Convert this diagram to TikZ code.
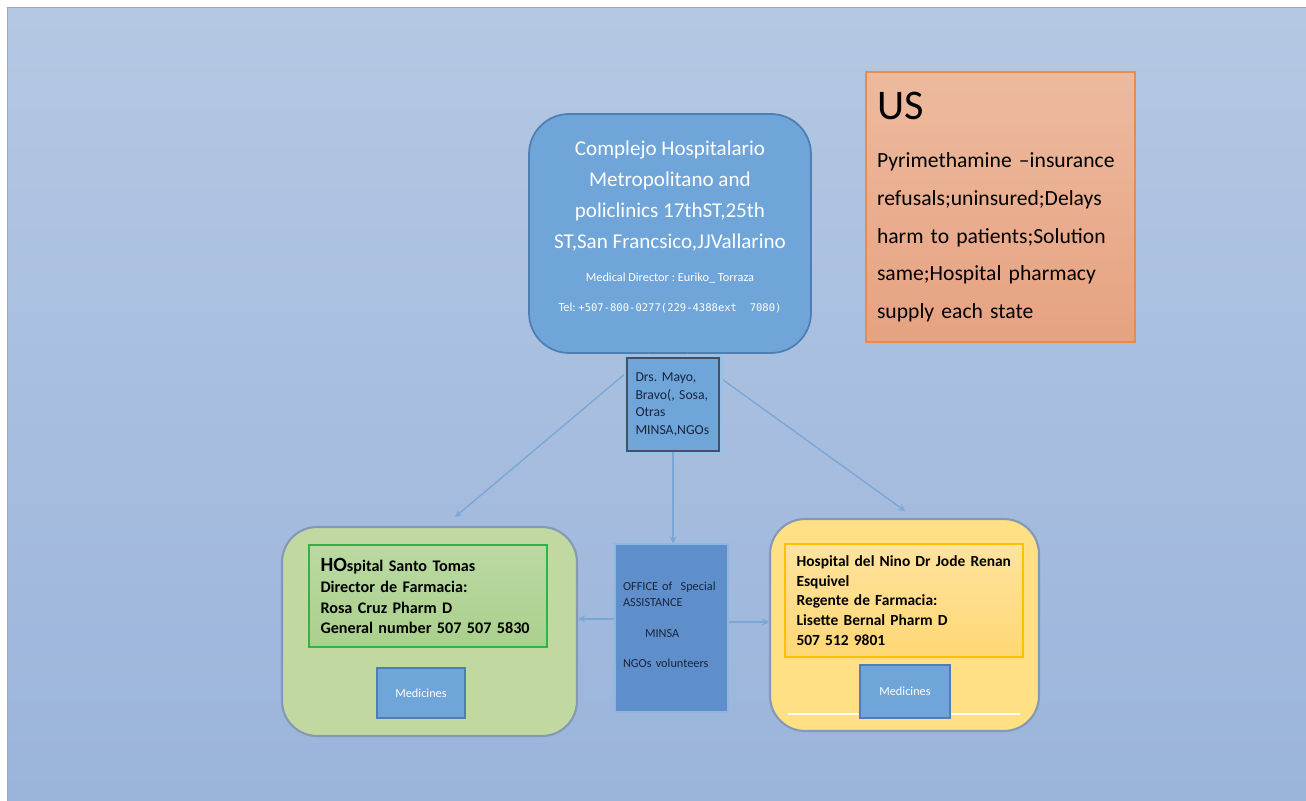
\documentclass[tikz,border=0pt]{standalone}
\usepackage{fontspec}
\setmainfont{Carlito}
\newfontfamily\telfont{DejaVu Sans Mono}
\usetikzlibrary{arrows}
\usetikzlibrary{shapes}
\frenchspacing

\definecolor{panelTop}{HTML}{B4C8E3}
\definecolor{panelBot}{HTML}{9BB4DB}
\definecolor{boxBlue}{HTML}{6FA5D8}
\definecolor{boxBlueEdge}{HTML}{4F7EB3}
\definecolor{officeBlue}{HTML}{5E8FCB}
\definecolor{navyText}{HTML}{18243F}
\definecolor{linkBlue}{HTML}{7BA7D7}
\definecolor{greenFill}{HTML}{C1D8A0}
\definecolor{greenInner}{HTML}{AAD08C}
\definecolor{greenEdge}{HTML}{33B24A}
\definecolor{yellowFill}{HTML}{FFE085}
\definecolor{yellowInner}{HTML}{FFD774}
\definecolor{yellowEdge}{HTML}{FFC000}
\definecolor{hospEdge}{HTML}{8499B3}
\definecolor{noteEdge}{HTML}{EE8A48}
\definecolor{noteTop}{HTML}{EDBA9E}
\definecolor{noteBot}{HTML}{E6A281}

\begin{document}
\begin{tikzpicture}[x = 0.02cm, y = -0.02cm, font = \rmfamily]
\tikzstyle{topStyle} = [shape = rectangle, rounded corners = 0.8cm, draw = boxBlueEdge, line width = 1pt, fill = boxBlue, text = white, align = center, minimum width = 5.64cm, minimum height = 4.78cm, inner sep = 0pt, font = \fontsize{12}{17.6}\selectfont]
\tikzstyle{noteStyle} = [shape = rectangle, draw = noteEdge, line width = 1pt, top color = noteTop, bottom color = noteBot, align = left, text width = 4.94cm, minimum width = 5.38cm, minimum height = 5.4cm, inner sep = 0.22cm, font = \fontsize{12.3}{21.5}\selectfont]
\tikzstyle{drsStyle} = [shape = rectangle, draw = navyText!80, line width = 0.8pt, fill = boxBlue, preaction = {draw = boxBlue!70!white, line width = 4pt}, text = navyText, align = left, text width = 1.5cm, minimum width = 1.84cm, minimum height = 1.86cm, inner xsep = 0.17cm, inner ysep = 0.2cm, font = \fontsize{7.8}{10.2}\selectfont]
\tikzstyle{officeStyle} = [shape = rectangle, draw = boxBlue!80!white, line width = 0.6pt, fill = officeBlue, text = navyText, align = left, text width = 1.94cm, minimum width = 2.26cm, minimum height = 3.36cm, inner sep = 0.16cm, text depth = 48pt, font = \fontsize{7}{9.6}\selectfont]
\tikzstyle{hospStyle} = [shape = rectangle, rounded corners = 0.7cm, draw = hospEdge, line width = 1.2pt]
\tikzstyle{infoStyle} = [shape = rectangle, line width = 0.8pt, align = left, text width = 4.3cm, minimum width = 4.76cm, inner sep = 0.23cm]
\tikzstyle{medStyle} = [shape = rectangle, draw = boxBlueEdge, line width = 1.2pt, fill = boxBlue, text = white, font = \fontsize{7}{8}\selectfont]
\tikzstyle{linkStyle} = [draw = linkBlue, line width = 0.8pt, -stealth]
\useasboundingbox (0,0) rectangle (1306,801);
% background panel
\fill[white] (0,0) rectangle (1306,801);
\shade[top color = panelTop, bottom color = panelBot] (8,7) rectangle (1306,801);
\draw[gray!70, line width = 0.6pt] (7.5,801) -- (7.5,7.5) -- (1306,7.5);
% hospital boxes
\node[hospStyle, fill = greenFill, minimum width = 5.9cm, minimum height = 4.18cm] (santo) at (429.5,631.5) {};
\node[hospStyle, fill = yellowFill, minimum width = 5.38cm, minimum height = 4.24cm] (nino) at (904.5,625) {};
\draw[white, line width = 1.6pt] (788,714) -- (1020,714);
\node[infoStyle, draw = greenEdge, top color = greenInner!80!white, bottom color = greenInner, minimum height = 2.04cm, font = \bfseries\fontsize{9.2}{11.9}\selectfont] (santoInfo) at (428,596)
  {{\fontsize{11.5}{11.9}\selectfont HO}spital Santo Tomas\\ Director de Farmacia:\\ Rosa Cruz Pharm D\\ General number 507 507 5830};
\node[infoStyle, draw = yellowEdge, top color = yellowInner!70!white, bottom color = yellowInner, minimum height = 2.22cm, font = \bfseries\fontsize{8.8}{11.3}\selectfont] (ninoInfo) at (904,600.5)
  {Hospital del Nino Dr Jode Renan\\ Esquivel\\ Regente de Farmacia:\\ Lisette Bernal Pharm D\\ 507 512 9801};
\node[medStyle, minimum width = 1.76cm, minimum height = 1.0cm] (medSanto) at (421,693) {Medicines};
\node[medStyle, minimum width = 1.8cm, minimum height = 1.06cm] (medNino) at (905,691.5) {Medicines};
% centre column
\node[topStyle] (metro) at (670,233.5)
  {Complejo Hospitalario\\ Metropolitano and\\ policlinics 17thST,25th\\ ST,San Francsico,JJVallarino\\[1pt]
   {\fontsize{7}{9}\selectfont Medical Director : Euriko\_ Torraza}\\[0pt]
   {\fontsize{7}{9}\selectfont Tel: {\telfont\fontsize{6}{9}\selectfont +507-800-0277(229-4388ext\ \ 7080)}}\\[-9.6pt] {}};
\node[officeStyle] (office) at (671.5,628)
  {OFFICE of \ Special\\ ASSISTANCE\\[7.5pt] \hspace*{0.44cm}MINSA\\[7.5pt] NGOs volunteers};
\node[noteStyle] (us) at (1000.5,207)
  {{\fontsize{24}{28}\selectfont US}\\[6pt]
   Pyrimethamine \textendash insurance refusals;uninsured;Delays harm to patients;Solution same;Hospital pharmacy supply each state};
% connectors
\draw[linkStyle] (metro.-100) -- (455,517);
\draw[linkStyle] (metro.-82) -- (905,511);
\node[drsStyle] (drs) at (673,404.5)
  {Drs. Mayo,\\ Bravo(, Sosa,\\ Otras\\ MINSA,NGOs};
\draw[linkStyle] (drs.south) -- (drs.south |- office.north);
\draw[linkStyle] (office.171) -- (office.171 -| santo.east);
\draw[linkStyle] (office.6) -- (office.6 -| nino.west);
\end{tikzpicture}
\end{document}
